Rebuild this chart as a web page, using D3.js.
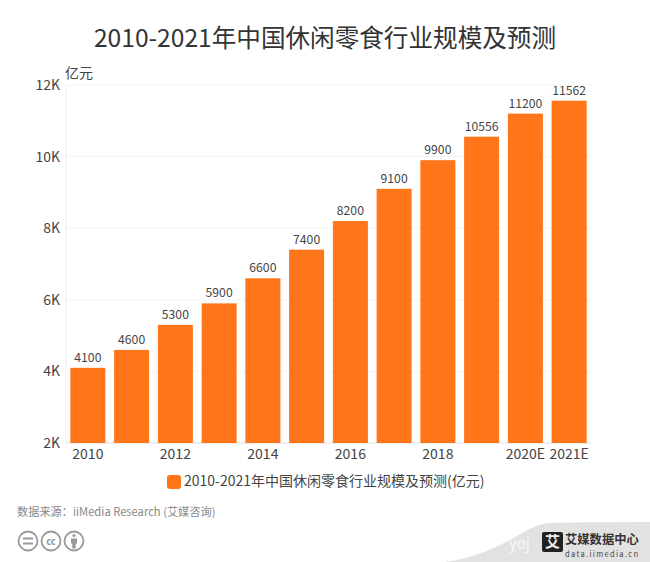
<!DOCTYPE html>
<html>
<head>
<meta charset="utf-8">
<script src="https://cdn.jsdelivr.net/npm/d3@7/dist/d3.min.js"></script>
<style>
  html, body { margin: 0; padding: 0; background: #fff; }
  text { font-family: "Noto Sans CJK SC", "Open Sans", sans-serif; }
</style>
</head>
<body>
<div id="chart"></div>
<script>
const years = ["2010","2011","2012","2013","2014","2015","2016","2017","2018","2019","2020E","2021E"]
const values = [4100,4600,5300,5900,6600,7400,8200,9100,9900,10556,11200,11562]
const yTicks = [2000,4000,6000,8000,10000,12000]
const shownYears = ["2010","2012","2014","2016","2018","2020E","2021E"]
const titleText = "2010-2021年中国休闲零食行业规模及预测"
const legendText = "2010-2021年中国休闲零食行业规模及预测(亿元)"
const sourceText = "数据来源：iiMedia Research (艾媒咨询)"
const unitText = "亿元"

const W = 650, H = 562
const orange = "#ff7519"
const svg = d3.select("#chart").append("svg").attr("width", W).attr("height", H).style("display", "block")

const x = d3.scaleBand().domain(years).range([66, 591]).paddingInner(0.2).paddingOuter(0.1)
const y = d3.scaleLinear().domain([2000, 12000]).range([443, 85])

// titre
svg.append("text").attr("x", 325).attr("y", 47).attr("text-anchor", "middle")
  .attr("font-size", 24.6).attr("fill", "#333").text(titleText)

// grille + axe y
svg.append("g").selectAll("line").data(yTicks).join("line")
  .attr("x1", 66).attr("x2", 591)
  .attr("y1", d => y(d)).attr("y2", d => y(d))
  .attr("stroke", d => d === 2000 ? "#ddd" : "#f3f3f3").attr("stroke-width", 1)
svg.append("line").attr("x1", 66).attr("x2", 66).attr("y1", 85).attr("y2", 443)
  .attr("stroke", "#eee")

svg.append("g").selectAll("text").data(yTicks).join("text")
  .attr("x", 60).attr("y", d => y(d)).attr("dy", "0.36em").attr("text-anchor", "end")
  .attr("font-size", 14).attr("fill", "#444").text(d => (d / 1000) + "K")

svg.append("text").attr("x", 65).attr("y", 78).attr("font-size", 14).attr("fill", "#444").text(unitText)

// barres
svg.append("g").selectAll("rect").data(years).join("rect")
  .attr("x", d => x(d)).attr("width", x.bandwidth())
  .attr("y", (d, i) => y(values[i])).attr("height", (d, i) => 443 - y(values[i]))
  .attr("fill", orange)

svg.append("g").selectAll("text").data(years).join("text")
  .attr("x", d => x(d) + x.bandwidth() / 2).attr("y", (d, i) => y(values[i]) - 6)
  .attr("text-anchor", "middle").attr("font-size", 12.2).attr("fill", "#444")
  .text((d, i) => values[i])

// axe x
svg.append("g").selectAll("text").data(shownYears).join("text")
  .attr("x", d => x(d) + x.bandwidth() / 2).attr("y", 459)
  .attr("text-anchor", "middle").attr("font-size", 14).attr("fill", "#444").text(d => d)

// légende
svg.append("rect").attr("x", 167).attr("y", 475).attr("width", 14).attr("height", 14).attr("rx", 3).attr("fill", orange)
svg.append("text").attr("x", 184).attr("y", 486).attr("font-size", 14).attr("fill", "#444").text(legendText)

// source
svg.append("text").attr("x", 17).attr("y", 516).attr("font-size", 11.2).attr("fill", "#888").text(sourceText)

// icônes CC
const icons = svg.append("g").attr("fill", "none").attr("stroke", "#999").attr("stroke-width", 1.8)
;[28, 51, 74].forEach(cx => icons.append("circle").attr("cx", cx).attr("cy", 541).attr("r", 9.5))
icons.append("path").attr("d", "M23 538.5h10M23 543.5h10")
svg.append("text").attr("x", 51).attr("y", 544.5).attr("text-anchor", "middle").attr("font-size", 9.5)
  .attr("font-weight", 700).attr("fill", "#999").text("cc")
svg.append("circle").attr("cx", 74).attr("cy", 535.5).attr("r", 1.6).attr("fill", "#999")
svg.append("path").attr("d", "M71 538.5h6v5h-1.3v5h-3.4v-5H71z").attr("fill", "#999")

// filigrane bas droite
svg.append("path").attr("d", "M445 562C500 555 525 525 548 523Q560 522 650 522V562Z").attr("fill", "#e2e2e2")
svg.append("rect").attr("x", 542).attr("y", 532).attr("width", 21).attr("height", 20).attr("rx", 2).attr("fill", "#222")
svg.append("text").attr("x", 552.5).attr("y", 547).attr("text-anchor", "middle").attr("font-size", 15).attr("font-weight", 700).attr("fill", "#eee").text("艾")
svg.append("text").attr("x", 565).attr("y", 543.5).attr("font-size", 12.3).attr("font-weight", 700).attr("fill", "#333").text("艾媒数据中心")
svg.append("text").attr("x", 565).attr("y", 556.5).attr("font-size", 7.5).attr("fill", "#444").attr("textLength", 73).text("data.iimedia.cn")
svg.append("text").attr("x", 509).attr("y", 549).attr("font-size", 15).attr("fill", "#fff").attr("opacity", 0.75).text("yoj")
</script>
</body>
</html>
